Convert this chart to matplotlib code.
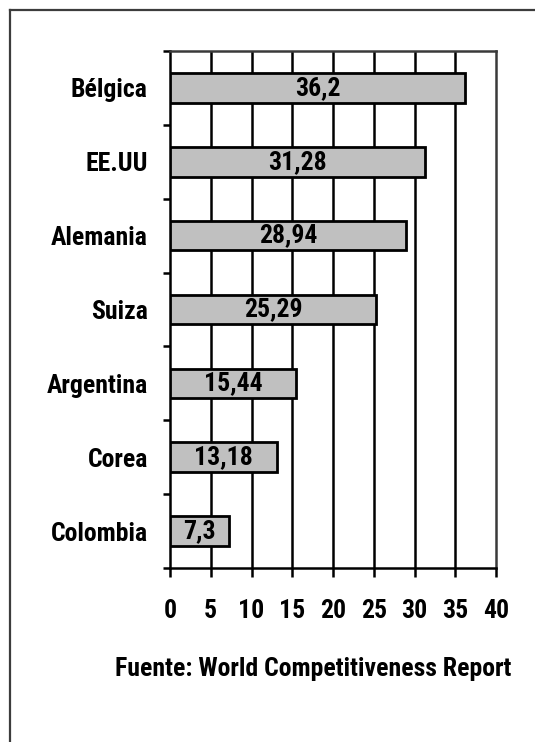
import matplotlib
matplotlib.use("Agg")
import matplotlib.pyplot as plt
from matplotlib.lines import Line2D

# Índice por país (de arriba hacia abajo)
paises = ["Bélgica", "EE.UU", "Alemania", "Suiza", "Argentina", "Corea", "Colombia"]
valores = [36.2, 31.28, 28.94, 25.29, 15.44, 13.18, 7.3]
ticks_x = [0, 5, 10, 15, 20, 25, 30, 35, 40]
fuente = "Fuente: World Competitiveness Report"

FONT = ["Roboto Condensed", "PT Sans Narrow", "Liberation Sans", "DejaVu Sans"]
plt.rcParams["font.family"] = FONT
plt.rcParams["font.weight"] = "bold"
TAM = 18.5

W, H = 535, 742
fig = plt.figure(figsize=(W / 100, H / 100), dpi=100)
fig.patch.set_facecolor("white")

ax = fig.add_axes([170 / W, 1 - 568 / H, (496 - 170) / W, (568 - 51) / H])

n = len(paises)
pos = list(range(n))
ax.barh(pos, valores, height=0.4, color="#c0c0c0", edgecolor="black",
        linewidth=2.0, zorder=3)

for p, v in zip(pos, valores):
    ax.text(v / 2, p, f"{v:g}".replace(".", ","), ha="center", va="center",
            fontsize=TAM, fontweight="bold", color="black", zorder=4)

ax.set_xlim(ticks_x[0], ticks_x[-1])
ax.set_ylim(n - 0.5, -0.5)

# Cuadrícula vertical
for t in ticks_x[1:-1]:
    ax.axvline(t, color="black", linewidth=1.8, zorder=1)

ax.set_xticks(ticks_x)
ax.set_xticklabels([str(t) for t in ticks_x], fontsize=TAM, fontweight="bold")
ax.tick_params(axis="x", direction="out", length=6.5, width=1.8, pad=16)

# Marcas del eje Y en los límites de categoría, etiquetas en el centro
ax.set_yticks([p - 0.5 for p in pos] + [n - 0.5])
ax.set_yticklabels([])
ax.tick_params(axis="y", which="major", direction="out", length=5, width=1.8)
ax.set_yticks(pos, minor=True)
ax.set_yticklabels(paises, minor=True, fontsize=TAM, fontweight="bold")
ax.tick_params(axis="y", which="minor", length=0, pad=16)

for s in ["left", "bottom"]:
    ax.spines[s].set_color("black")
    ax.spines[s].set_linewidth(1.8)
for s in ["top", "right"]:
    ax.spines[s].set_color("#3a3a3a")
    ax.spines[s].set_linewidth(1.8)

fig.text(313 / W, 1 - 669 / H, fuente, ha="center", va="center",
         fontsize=TAM, fontweight="bold")

# Marco exterior
fig.add_artist(Line2D([9.5 / W, 9.5 / W], [0, 1 - 9.5 / H], color="#3c3c3c",
                      linewidth=1.6, transform=fig.transFigure))
fig.add_artist(Line2D([9.5 / W, 1], [1 - 9.5 / H, 1 - 9.5 / H], color="#3c3c3c",
                      linewidth=1.6, transform=fig.transFigure))

fig.savefig("out.png", dpi=100, facecolor="white")
